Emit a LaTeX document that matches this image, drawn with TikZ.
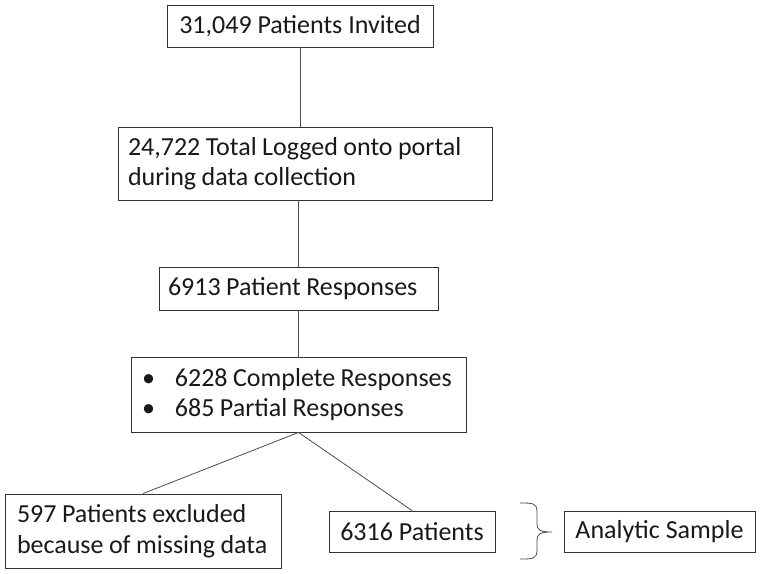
\documentclass[tikz,border=0pt]{standalone}
\usepackage{fontspec}
\setmainfont{Carlito}
\usetikzlibrary{positioning}
\newcommand\myline[1]{\mbox{\spaceskip=0.21em\relax #1}}
\begin{document}
\begin{tikzpicture}[x=1pt,y=-1pt,
  box/.style={draw=black!80,line width=0.9pt,inner ysep=0pt,text=black!90,font=\fontsize{26}{30.5}\selectfont},
  lbox/.style={box,align=left},
  conn/.style={draw=black!70,line width=0.8pt}]
\useasboundingbox (0,0) rectangle (760,573);
\node[box,inner xsep=0pt,minimum width=266,minimum height=42,align=center] (b1) at (300,26) {31,049 Patients Invited};
\node[lbox,inner xsep=10pt,text width=354,minimum height=73] (b2) at (305,163.5) {\myline{24,722 Total Logged onto portal}\\\myline{during data collection}};
\node[lbox,inner xsep=9pt,text width=261,minimum height=43] (b3) at (298.5,288.5) {\myline{6913 Patient Responses}};
\node[lbox,inner xsep=11pt,text width=313,minimum height=75] (b4) at (298.5,394.5) {\myline{\textbullet\hspace{20pt}6228 Complete Responses}\\\myline{\textbullet\hspace{20pt}685 Partial Responses}};
\node[lbox,inner xsep=12pt,text width=252,minimum height=74] (b5) at (143,531) {\myline{597 Patients excluded}\\\myline{because of missing data}};
\node[box,inner xsep=0pt,minimum width=166,minimum height=41,align=center] (b6) at (412,531.5) {6316 Patients};
\node[box,inner xsep=0pt,minimum width=191,minimum height=41,align=center] (b7) at (659.5,531.5) {Analytic Sample};
\draw[conn] (b1.south) -- (b2.north -| b1.south);
\draw[conn] (b2.south -| b3.north) -- (b3.north);
\draw[conn] (b3.south) -- (b4.north);
\draw[conn] (b4.south) -- (b5.north);
\draw[conn] (b4.south) -- (b6.north);
\draw[conn] (520,503) .. controls (533,503) and (537,503) .. (537,512) -- (537,524) .. controls (537,530) and (540,532) .. (552,532)
  (537,540) .. controls (537,534) and (540,532) .. (552,532)
  (537,540) -- (537,550) .. controls (537,559) and (533,559) .. (520,559);
\end{tikzpicture}
\end{document}
